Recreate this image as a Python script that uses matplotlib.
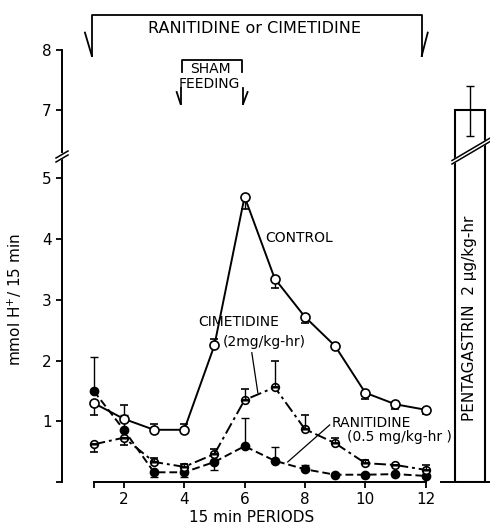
import matplotlib.pyplot as plt
from matplotlib.lines import Line2D
from matplotlib.patches import Polygon
import numpy as np

# 15 min periods
periods = np.arange(1, 13)

# mmol H+/15 min, with one-sided error bars (lower, upper)
control = [1.30, 1.04, 0.86, 0.86, 2.25, 4.70, 3.35, 2.72, 2.24, 1.47, 1.28, 1.19]
control_lo = [0.20, 0, 0, 0, 0, 0.20, 0.16, 0.10, 0, 0.10, 0.08, 0.07]
control_hi = [0, 0.23, 0.10, 0.10, 0.10, 0, 0, 0, 0, 0, 0, 0]

cimetidine = [0.62, 0.73, 0.33, 0.25, 0.46, 1.35, 1.56, 0.87, 0.64, 0.31, 0.28, 0.20]
cimetidine_lo = [0.12, 0.12, 0, 0, 0, 0, 0, 0, 0, 0, 0, 0]
cimetidine_hi = [0, 0, 0.07, 0.05, 0.09, 0.19, 0.43, 0.23, 0.08, 0.06, 0, 0.08]

ranitidine = [1.50, 0.86, 0.16, 0.16, 0.33, 0.59, 0.35, 0.21, 0.12, 0.12, 0.13, 0.10]
ranitidine_lo = [0, 0, 0.08, 0.08, 0.13, 0, 0, 0, 0, 0, 0, 0]
ranitidine_hi = [0.56, 0.25, 0, 0, 0, 0.46, 0.23, 0.07, 0, 0, 0, 0]

# pentagastrin reference bar
penta_x = 13.46
penta_val = 7.0
penta_lo = 0.43
penta_hi = 0.40

W, H = 490, 530
fig = plt.figure(figsize=(4.9, 5.3), dpi=100)
plt.rcParams['font.family'] = ['DejaVu Sans']

def fx(px):
    return px / W

def fy(py):
    return 1 - py / H

ax = fig.add_axes([fx(62), fy(482), fx(489) - fx(62), fy(155.4) - fy(482)])
ax_top = fig.add_axes([fx(62), fy(155.4), fx(489) - fx(62), fy(2) - fy(155.4)])

for a in (ax, ax_top):
    a.set_xlim(-0.05, 14.1)
    a.spines['top'].set_visible(False)
    a.spines['right'].set_visible(False)
    for s in a.spines.values():
        s.set_linewidth(1.4)
    a.tick_params(direction='out', length=4, width=1.3, labelsize=11)
    a.patch.set_alpha(0)

ax.set_ylim(0, 5.38)
ax_top.set_ylim(6.243, 8.8)
ax_top.spines['bottom'].set_visible(False)
ax_top.set_xticks([])
ax_top.spines['left'].set_bounds(6.3, 8)
ax_top.set_yticks([7, 8])
ax.spines['left'].set_bounds(0, 5.33)
ax.set_yticks([0, 1, 2, 3, 4, 5])
ax.set_yticklabels(['', '1', '2', '3', '4', '5'])
ax.spines['bottom'].set_bounds(1, 12)
ax.set_xticks([1, 2, 4, 6, 8, 10, 12])
ax.set_xticklabels(['', '2', '4', '6', '8', '10', '12'])

lw = 1.4
ax.errorbar(periods, control, yerr=[control_lo, control_hi], color='black', lw=lw,
            marker='o', ms=6.5, mfc='white', mec='black', mew=1.2,
            capsize=3, elinewidth=1, zorder=5)
ax.errorbar(periods, cimetidine, yerr=[cimetidine_lo, cimetidine_hi], color='black', lw=lw,
            ls=(0, (6, 2, 1.5, 2)), marker='o', ms=5.5, mfc='white', mec='black', mew=1.2,
            fillstyle='bottom', capsize=3, elinewidth=1, zorder=4)
ax.errorbar(periods, ranitidine, yerr=[ranitidine_lo, ranitidine_hi], color='black', lw=lw,
            ls=(0, (4, 2)), marker='o', ms=6, mfc='black', mec='black',
            capsize=3, elinewidth=1, zorder=3)

# pentagastrin bar, split across the break
for a in (ax, ax_top):
    a.bar([penta_x], [penta_val], width=1.0, color='white', edgecolor='black', lw=1.5, zorder=2)
ax_top.errorbar([penta_x], [penta_val], yerr=[[penta_lo], [penta_hi]], color='black',
                capsize=3, elinewidth=1, zorder=3)
ax.plot([12.5, 14.12], [0, 0], color='black', lw=1.4, clip_on=False)
ax.text(penta_x, 2.70, 'PENTAGASTRIN  2 μg/kg-hr', rotation=90, ha='center', va='center',
        fontsize=11)

# labels
fs = 10
ax.text(6.67, 4.02, 'CONTROL', ha='left', va='center', fontsize=fs)
ax.text(4.45, 2.64, 'CIMETIDINE', ha='left', va='center', fontsize=fs)
ax.text(5.28, 2.31, '(2mg/kg-hr)', ha='left', va='center', fontsize=fs)
ax.plot([6.24, 6.44], [2.13, 1.47], color='black', lw=0.9)
ax.text(8.89, 0.97, 'RANITIDINE', ha='left', va='center', fontsize=fs)
ax.text(9.39, 0.74, '(0.5 mg/kg-hr )', ha='left', va='center', fontsize=fs)
ax.plot([8.82, 7.43], [0.94, 0.33], color='black', lw=0.9)

# treatment brackets
k = dict(color='black', lw=1.3, clip_on=False)
ax_top.plot([0.94, 0.94, 11.87, 11.87], [7.9, 8.58, 8.58, 7.9], **k)
ax_top.plot([0.71, 0.94], [8.29, 7.9], **k)
ax_top.plot([12.07, 11.87], [8.29, 7.9], **k)
ax_top.text(6.34, 8.35, 'RANITIDINE or CIMETIDINE', ha='center', va='center', fontsize=11.5)

ax_top.plot([3.92, 3.92, 5.91, 5.91], [7.63, 7.84, 7.84, 7.63], **k)
ax_top.plot([3.88, 3.88], [7.36, 7.10], **k)
ax_top.plot([3.75, 3.88], [7.30, 7.10], **k)
ax_top.plot([5.95, 5.95], [7.36, 7.10], **k)
ax_top.plot([6.10, 5.95], [7.30, 7.10], **k)
ax_top.text(4.88, 7.69, 'SHAM', ha='center', va='center', fontsize=10)
ax_top.text(4.82, 7.44, 'FEEDING', ha='center', va='center', fontsize=10)

# axis break marks
def brk(x0, y0, x1, y1, gap):
    poly = Polygon([(fx(x0), fy(y0)), (fx(x1), fy(y1)), (fx(x1), fy(y1 - gap)),
                    (fx(x0), fy(y0 - gap))], closed=True, color='white',
                   transform=fig.transFigure, zorder=10)
    fig.add_artist(poly)
    for g in (0, gap):
        fig.add_artist(Line2D([fx(x0), fx(x1)], [fy(y0 - g), fy(y1 - g)], color='black',
                              lw=1.1, transform=fig.transFigure, zorder=11))

brk(56, 162, 68, 155, 4)
brk(452, 164, 491, 141, 3.5)

fig.text(fx(15), fy(300), 'mmol H$^{+}$/ 15 min', rotation=90, ha='center', va='center',
         fontsize=11)
fig.text(fx(252), fy(518), '15 min PERIODS', ha='center', va='center', fontsize=11)

fig.savefig('out.png', dpi=100)
